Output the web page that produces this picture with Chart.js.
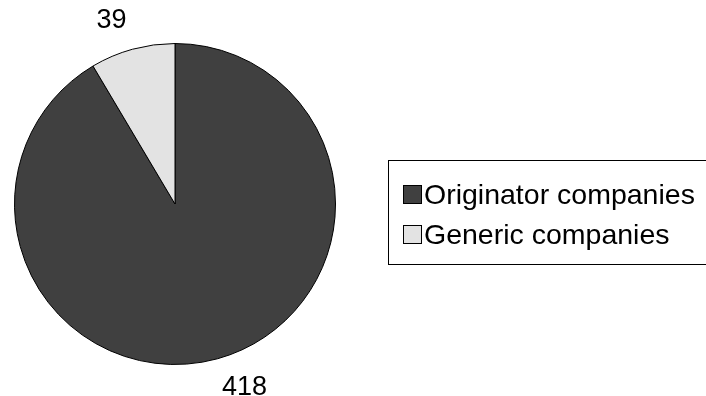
<!DOCTYPE html>
<html>
<head>
<meta charset="utf-8">
<script src="https://cdn.jsdelivr.net/npm/chart.js@4"></script>
<style>
  html, body { margin: 0; padding: 0; background: #fff; }
  #wrap { width: 706px; height: 396px; position: relative; }
</style>
</head>
<body>
<div id="wrap"><canvas id="pieChart" width="706" height="396"></canvas></div>
<script>
const categories = ['Originator companies', 'Generic companies'];
const counts = [418, 39];
const sliceColors = ['#404040', '#e3e3e3'];

// value labels outside the slices
const outsideLabels = {
  id: 'outsideLabels',
  afterDatasetsDraw(chart) {
    const ctx = chart.ctx;
    const meta = chart.getDatasetMeta(0);
    ctx.save();
    ctx.font = '27px "Liberation Sans", Arial, sans-serif';
    ctx.fillStyle = '#000';
    ctx.textAlign = 'center';
    ctx.textBaseline = 'middle';
    meta.data.forEach((arc, i) => {
      const p = arc.getProps(['x', 'y', 'startAngle', 'endAngle', 'outerRadius'], true);
      const mid = (p.startAngle + p.endAngle) / 2;
      const dx = Math.cos(mid), dy = Math.sin(mid);
      const r = p.outerRadius + 30;
      const x = p.x + dx * r + (dx < 0 ? -13 : 19);
      const y = p.y + dy * r;
      ctx.fillText(String(counts[i]), x, y);
    });
    ctx.restore();
  }
};

// boxed legend on the right
const boxLegend = {
  id: 'boxLegend',
  afterDraw(chart) {
    const ctx = chart.ctx;
    ctx.save();
    ctx.strokeStyle = '#000';
    ctx.lineWidth = 1;
    ctx.strokeRect(388.5, 160.5, 340, 104);
    ctx.font = '28.5px "Liberation Sans", Arial, sans-serif';
    ctx.textBaseline = 'alphabetic';
    ctx.textAlign = 'left';
    categories.forEach((name, i) => {
      const top = 185 + i * 40;
      ctx.fillStyle = sliceColors[i];
      ctx.fillRect(403.5, top + 0.5, 18, 18);
      ctx.strokeRect(403.5, top + 0.5, 18, 18);
      ctx.fillStyle = '#000';
      ctx.fillText(name, 424, top + 19);
    });
    ctx.restore();
  }
};

new Chart(document.getElementById('pieChart').getContext('2d'), {
  type: 'pie',
  data: {
    labels: categories,
    datasets: [{
      data: counts,
      backgroundColor: sliceColors,
      borderColor: '#000',
      borderWidth: 1
    }]
  },
  options: {
    responsive: false,
    animation: false,
    layout: { padding: { left: 14, top: 43, right: 370, bottom: 31 } },
    plugins: {
      legend: { display: false },
      tooltip: { enabled: false }
    }
  },
  plugins: [outsideLabels, boxLegend]
});
</script>
</body>
</html>
